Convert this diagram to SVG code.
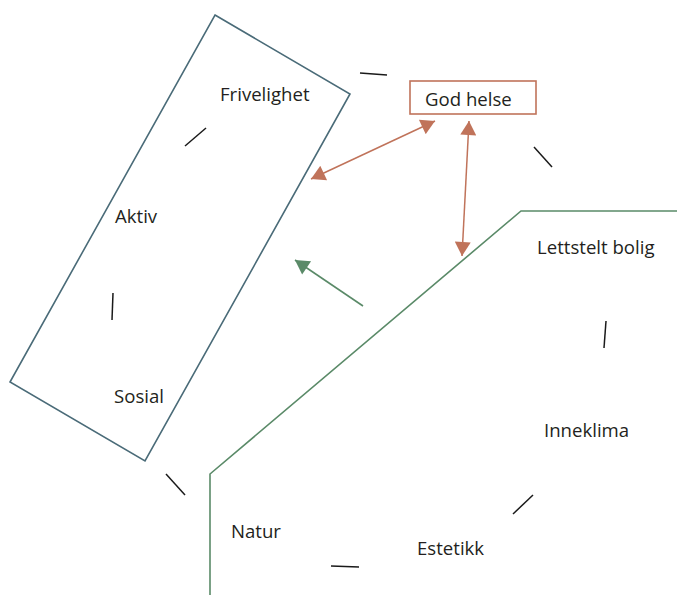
<svg xmlns="http://www.w3.org/2000/svg" width="677" height="595" viewBox="0 0 677 595">
<style>
.t{font-family:"Open Sans","Noto Sans","Liberation Sans",sans-serif;font-size:18.6px;fill:#231f20}
.dash{stroke:#1a1a1a;stroke-width:1.5;fill:none}
.or{stroke:#c0735a;stroke-width:1.5;fill:none}
.gr{stroke:#5a8a68;stroke-width:1.6;fill:none}
</style>
<defs>
<marker id="ao" markerUnits="userSpaceOnUse" markerWidth="16" markerHeight="16" viewBox="0 0 14 16" refX="14" refY="8" orient="auto-start-reverse"><path d="M0,0 L14,8 L0,16 Z" fill="#c0735a"/></marker>
<marker id="ag" markerUnits="userSpaceOnUse" markerWidth="16" markerHeight="16" viewBox="0 0 14 16" refX="14" refY="8" orient="auto"><path d="M0,0 L14,8 L0,16 Z" fill="#5a8a68"/></marker>
</defs>
<rect width="677" height="595" fill="#ffffff"/>
<g id="dashes">
<path class="dash" d="M360,73 L387,75"/>
<path class="dash" d="M185,146 L206,128"/>
<path class="dash" d="M113,293 L112,320"/>
<path class="dash" d="M534,147 L552,167"/>
<path class="dash" d="M606,321 L604,348"/>
<path class="dash" d="M513,514 L533,495"/>
<path class="dash" d="M166,474 L185,495"/>
<path class="dash" d="M331,566 L359,567"/>
</g>
<g id="personal">
<polygon points="215,15 350,94 145,461 10,382" fill="none" stroke="#4a6b78" stroke-width="1.6"/>
<text class="t" x="220" y="101">Frivelighet</text>
<text class="t" x="115" y="223">Aktiv</text>
<text class="t" x="114" y="403">Sosial</text>
</g>
<g id="housing">
<polyline class="gr" points="210,595 210,474 521,211 677,211"/>
<text class="t" x="537" y="254">Lettstelt bolig</text>
<text class="t" x="544" y="437">Inneklima</text>
<text class="t" x="417" y="555">Estetikk</text>
<text class="t" x="231" y="538">Natur</text>
</g>
<g id="godhelse">
<rect x="410" y="81" width="126" height="33" fill="none" stroke="#c0735a" stroke-width="1.6"/>
<text class="t" x="425" y="106">God helse</text>
</g>
<g id="connectors">
<line class="or" x1="435" y1="121" x2="311" y2="179" marker-start="url(#ao)" marker-end="url(#ao)"/>
<line class="or" x1="469" y1="121" x2="462" y2="256" marker-start="url(#ao)" marker-end="url(#ao)"/>
<line class="gr" x1="363" y1="306" x2="295" y2="260" marker-end="url(#ag)"/>
</g>
</svg>
